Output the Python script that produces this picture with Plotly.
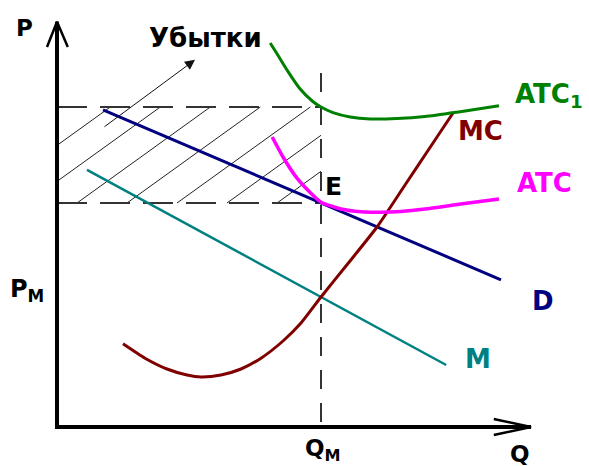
import numpy as np
import plotly.graph_objects as go

# --- economic values (quantity Q, price P) ---
q_m = 6.6          # output where MC = M
p_atc1 = 8.0       # ATC1 at Q_M
p_e = 5.6          # price on demand at Q_M (point E)
p_m = 3.25         # MC = M at Q_M

demand_q = [1.15, 6.6, 11.1]
demand_p = [7.93, 5.6, 3.68]

mr_q = [0.75, 6.6, 9.73]
mr_p = [6.43, 3.25, 1.55]

mc_q = [1.65, 2.2, 2.75, 3.25, 3.6, 4.1, 4.6, 5.1, 5.65, 6.1, 6.6, 7.3, 8.0, 8.7, 9.3, 9.9]
mc_p = [2.08, 1.72, 1.45, 1.3, 1.25, 1.3, 1.45, 1.72, 2.15, 2.6, 3.25, 4.12, 5.0, 6.05, 6.95, 7.85]

atc_q = [5.38, 5.65, 6.0, 6.33, 6.6, 7.1, 7.6, 8.1, 8.6, 9.2, 10.0, 11.05]
atc_p = [7.25, 6.75, 6.22, 5.86, 5.62, 5.45, 5.38, 5.37, 5.39, 5.45, 5.56, 5.7]

atc1_q = [5.33, 5.5, 5.78, 6.08, 6.38, 6.6, 6.9, 7.33, 7.83, 8.5, 9.2, 10.0, 11.05]
atc1_p = [9.6, 9.33, 8.88, 8.45, 8.15, 8.0, 7.86, 7.75, 7.7, 7.71, 7.76, 7.87, 8.03]

q_axis_end = 11.85
p_axis_end = 10.13
q_dash_top = 8.85

GREEN, MAROON, MAGENTA, NAVY, TEAL = "#008000", "#800000", "#FF00FF", "#000080", "#008080"
FONT = "DejaVu Sans"

fig = go.Figure()


def line(x, y, color, width, dash=None, shape="linear", smoothing=0.8):
    spec = dict(color=color, width=width, dash=dash, shape=shape)
    if shape == "spline":
        spec["smoothing"] = smoothing
    fig.add_trace(go.Scatter(x=x, y=y, mode="lines", hoverinfo="skip", line=spec))


# hatched loss rectangle: parallel strokes clipped to [0, Q_M] x [P_E, P_ATC1]
slope = 0.72
hx, hy = [], []
for c in np.arange(-2.0, q_m, 1.25):
    if c >= 0:
        x0, y0 = c, p_e
    else:
        x0, y0 = 0.0, p_e - slope * c
    if y0 >= p_atc1:
        continue
    xt = c + (p_atc1 - p_e) / slope
    if xt > q_m:
        x1, y1 = q_m, p_e + slope * (q_m - c)
    else:
        x1, y1 = xt, p_atc1
    hx += [x0, x1, None]
    hy += [y0, y1, None]
line(hx, hy, "#222222", 1)

# dashed guides
line([0, q_m], [p_atc1, p_atc1], "#333333", 2, dash="30px,13px")
line([0, q_m], [p_e, p_e], "#333333", 2, dash="30px,13px")
line([q_m, q_m], [q_dash_top, 0], "#333333", 2, dash="19px,14px")

# curves
line(mr_q, mr_p, TEAL, 2.5)
line(demand_q, demand_p, NAVY, 3)
line(mc_q, mc_p, MAROON, 3, shape="spline", smoothing=0.6)
line(atc_q, atc_p, MAGENTA, 3.5, shape="spline", smoothing=0.6)
line(atc1_q, atc1_p, GREEN, 3, shape="spline", smoothing=0.6)

# axes with open arrowheads
line([0, 0, q_axis_end], [p_axis_end, 0, 0], "#000000", 4)
line([-0.25, 0, 0.27], [p_axis_end - 0.63, p_axis_end, p_axis_end - 0.63], "#000000", 2.5)
line([q_axis_end - 0.93, q_axis_end, q_axis_end - 0.93], [0.2, 0, -0.2], "#000000", 2.5)

# arrow pointing to the loss label
fig.add_annotation(x=3.45, y=9.18, ax=1.15, ay=7.48, xref="x", yref="y", axref="x", ayref="y",
                   text="", showarrow=True, arrowhead=2, arrowsize=2, arrowwidth=1, arrowcolor="#111111")


def label(text, x, y, color="#000000", size=26):
    fig.add_annotation(x=x, y=y, xref="x", yref="y", text=text, showarrow=False,
                       xanchor="center", yanchor="middle",
                       font=dict(family=FONT, size=size, color=color, weight="bold"))


label("P", -0.82, 9.98, size=23)
label("Убытки", 3.72, 9.72, size=26)
label("P<sub>M</sub>", -0.74, 3.42, size=24)
label("Q<sub>M</sub>", 6.64, -0.58, size=23)
label("Q", 11.58, -0.68, size=23)
label("ATC<sub>1</sub>", 12.31, 8.3, GREEN)
label("MC", 10.59, 7.4, MAROON)
label("ATC", 12.18, 6.11, MAGENTA)
label("D", 12.15, 3.14, NAVY)
label("M", 10.53, 1.71, TEAL)
label("E", 6.9, 6.01, size=25)

fig.update_layout(
    width=589, height=466, margin=dict(l=0, r=0, t=0, b=0),
    paper_bgcolor="white", plot_bgcolor="white", showlegend=False,
    xaxis=dict(range=[-1.425, 13.3], visible=False, fixedrange=True),
    yaxis=dict(range=[-0.975, 10.675], visible=False, fixedrange=True),
)

fig.write_html("out.html")
